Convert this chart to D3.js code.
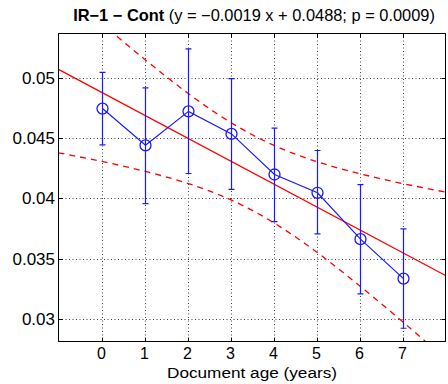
<!DOCTYPE html>
<html>
<head>
<meta charset="utf-8">
<script src="https://cdn.jsdelivr.net/npm/d3@7"></script>
<style>
  html, body { margin: 0; padding: 0; background: #fff; }
  svg { display: block; font-family: "Liberation Sans", Arial, sans-serif; }
</style>
</head>
<body>
<svg id="chart" width="448" height="384"></svg>
<script>
// Document age (years)
const ages = [0, 1, 2, 3, 4, 5, 6, 7];
// Mean score per age, with upper / lower error-bar ends
const means = [0.04745, 0.04440, 0.04722, 0.04535, 0.04198, 0.04046, 0.03661, 0.03334];
const errHigh = [0.05046, 0.04917, 0.05241, 0.04994, 0.04582, 0.04397, 0.04114, 0.03746];
const errLow = [0.04444, 0.03957, 0.04206, 0.04075, 0.03807, 0.03705, 0.03207, 0.02922];

// Linear fit y = slope * x + intercept
const slope = -0.0019;
const intercept = 0.0488;
const pValue = 0.0009;

// Confidence band of the fit, sampled at whole years
const bandAges = [-1, 0, 1, 2, 3, 4, 5, 6, 7, 8];
const bandHigh = [0.05762, 0.05453, 0.05155, 0.04875, 0.04631, 0.04441, 0.04305, 0.04205, 0.04123, 0.04052];
const bandLow = [0.04378, 0.04307, 0.04225, 0.04125, 0.03989, 0.03799, 0.03555, 0.03275, 0.02977, 0.02668];

// Axis ticks
const xTicks = [0, 1, 2, 3, 4, 5, 6, 7];
const yTicks = [0.03, 0.035, 0.04, 0.045, 0.05];
const yTickLabels = ["0.03", "0.035", "0.04", "0.045", "0.05"];

const svg = d3.select("#chart");
const plot = { left: 58.5, right: 445.5, top: 33.5, bottom: 341.5 };

const x = d3.scaleLinear().domain([-1, 8]).range([plot.left, plot.right]);
const y = d3.scaleLinear().domain([0.02812, 0.05368]).range([plot.bottom, plot.top]);

svg.append("defs").append("clipPath").attr("id", "plotClip")
  .append("rect")
  .attr("x", plot.left).attr("y", plot.top)
  .attr("width", plot.right - plot.left).attr("height", plot.bottom - plot.top);

// Dotted grid
const grid = svg.append("g").attr("stroke", "#111").attr("stroke-width", 1)
  .attr("stroke-dasharray", "1,2.5").attr("opacity", 0.8);
grid.selectAll("line.v").data(xTicks).join("line")
  .attr("x1", d => Math.round(x(d)) + 0.5).attr("x2", d => Math.round(x(d)) + 0.5)
  .attr("y1", plot.top).attr("y2", plot.bottom);
grid.selectAll("line.h").data(yTicks).join("line")
  .attr("y1", d => Math.round(y(d)) + 0.5).attr("y2", d => Math.round(y(d)) + 0.5)
  .attr("x1", plot.left).attr("x2", plot.right);

const marks = svg.append("g").attr("clip-path", "url(#plotClip)");

// Fit line
marks.append("line")
  .attr("x1", x(-1)).attr("y1", y(slope * -1 + intercept))
  .attr("x2", x(8)).attr("y2", y(slope * 8 + intercept))
  .attr("stroke", "#ff0000").attr("stroke-width", 1.3);

// Confidence band (dashed)
const bandLine = d3.line().x(d => x(d[0])).y(d => y(d[1])).curve(d3.curveNatural);
[bandHigh, bandLow].forEach(vals => {
  marks.append("path")
    .attr("d", bandLine(bandAges.map((a, i) => [a, vals[i]])))
    .attr("fill", "none").attr("stroke", "#ff0000").attr("stroke-width", 1.3)
    .attr("stroke-dasharray", "6,5");
});

// Error bars
const blue = "#1a1aff";
const eb = marks.append("g").attr("stroke", blue).attr("stroke-width", 1.2);
ages.forEach((a, i) => {
  const cx = Math.round(x(a)) + 0.5;
  eb.append("line").attr("x1", cx).attr("x2", cx).attr("y1", y(errHigh[i])).attr("y2", y(errLow[i]));
  eb.append("line").attr("x1", cx - 3).attr("x2", cx + 3).attr("y1", y(errHigh[i])).attr("y2", y(errHigh[i]));
  eb.append("line").attr("x1", cx - 3).attr("x2", cx + 3).attr("y1", y(errLow[i])).attr("y2", y(errLow[i]));
});

// Mean line with circle markers
marks.append("path")
  .attr("d", d3.line().x(d => Math.round(x(d[0])) + 0.5).y(d => y(d[1]))(ages.map((a, i) => [a, means[i]])))
  .attr("fill", "none").attr("stroke", blue).attr("stroke-width", 1.2);
marks.selectAll("circle").data(ages).join("circle")
  .attr("cx", d => Math.round(x(d)) + 0.5).attr("cy", (d, i) => y(means[i])).attr("r", 5.5)
  .attr("fill", "none").attr("stroke", blue).attr("stroke-width", 1.3);

// Axes box with inward ticks
const axes = svg.append("g").attr("stroke", "#000").attr("stroke-width", 1);
axes.append("rect")
  .attr("x", plot.left).attr("y", plot.top)
  .attr("width", plot.right - plot.left).attr("height", plot.bottom - plot.top)
  .attr("fill", "none");
const tl = 4;
xTicks.forEach(t => {
  const px = Math.round(x(t)) + 0.5;
  axes.append("line").attr("x1", px).attr("x2", px).attr("y1", plot.bottom).attr("y2", plot.bottom - tl);
  axes.append("line").attr("x1", px).attr("x2", px).attr("y1", plot.top).attr("y2", plot.top + tl);
});
yTicks.forEach(t => {
  const py = Math.round(y(t)) + 0.5;
  axes.append("line").attr("y1", py).attr("y2", py).attr("x1", plot.left).attr("x2", plot.left + tl);
  axes.append("line").attr("y1", py).attr("y2", py).attr("x1", plot.right).attr("x2", plot.right - tl);
});

// Tick labels
svg.append("g").selectAll("text").data(xTicks).join("text")
  .attr("x", d => x(d)).attr("y", 359)
  .attr("text-anchor", "middle").attr("font-size", 16).attr("fill", "#000")
  .text(d => d);
svg.append("g").selectAll("text").data(yTicks).join("text")
  .attr("x", 55).attr("y", d => y(d)).attr("dy", "0.36em")
  .attr("text-anchor", "end").attr("font-size", 17).attr("fill", "#000")
  .text((d, i) => yTickLabels[i]);

// Axis title
svg.append("text")
  .attr("x", 252).attr("y", 378)
  .attr("text-anchor", "middle").attr("font-size", 15.5).attr("fill", "#000")
  .attr("textLength", 170).attr("lengthAdjust", "spacingAndGlyphs")
  .text("Document age (years)");

// Chart title
const fmt = v => (v < 0 ? "\u2212" : "") + Math.abs(v).toFixed(4);
const title = svg.append("text")
  .attr("x", 254).attr("y", 21)
  .attr("text-anchor", "middle").attr("font-size", 16.4).attr("fill", "#000");
title.append("tspan").attr("font-weight", "bold").text("IR\u22121 \u2212 Cont ");
title.append("tspan")
  .text(`(y = ${fmt(slope)} x + ${fmt(intercept)}; p = ${pValue.toFixed(4)})`);
</script>
</body>
</html>
